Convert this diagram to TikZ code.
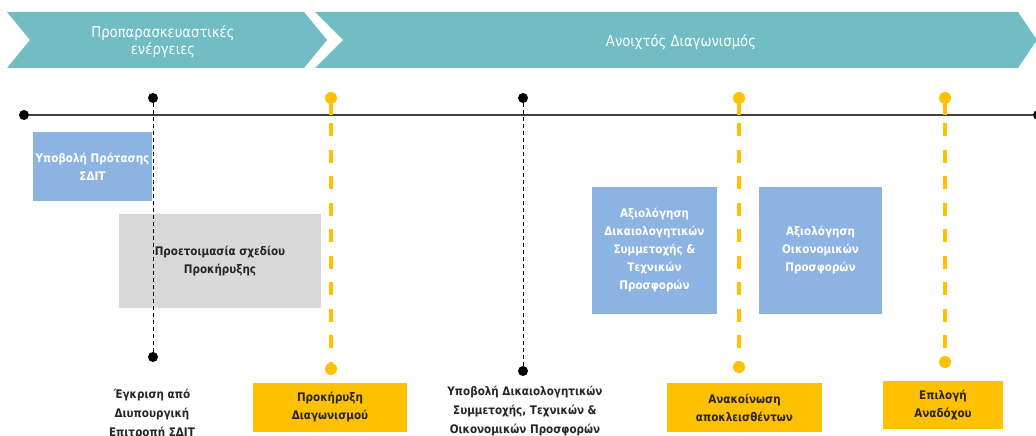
\documentclass[tikz,border=0pt]{standalone}
\usepackage{fontspec}
\setmainfont{DejaVu Sans}[FakeStretch=0.88]
\definecolor{chev}{HTML}{71BDC3}
\definecolor{blu}{HTML}{8DB3E2}
\definecolor{gry}{HTML}{D9D9D9}
\definecolor{ylw}{HTML}{FFC000}
\definecolor{txt}{HTML}{262626}
\definecolor{tline}{HTML}{404040}
\begin{document}
\begin{tikzpicture}[x=1pt,y=-1pt,
  hdr/.style={font=\fontsize{15}{17}\selectfont, text=white, align=center, inner sep=0pt},
  lbl/.style={font=\fontsize{11.8}{19}\selectfont\bfseries, text=txt, align=center, inner sep=0pt},
  boxtxt/.style={font=\fontsize{11.8}{18}\selectfont\bfseries, align=center, inner sep=0pt},
  bluebox/.style={boxtxt, fill=blu, text=white},
  graybox/.style={boxtxt, fill=gry, text=txt},
  ylwbox/.style={boxtxt, fill=ylw, text=txt},
  dotk/.style={circle, fill=black, inner sep=0pt, minimum size=10pt},
  doty/.style={circle, fill=ylw, inner sep=0pt, minimum size=12pt},
  ystem/.style={draw=ylw, line width=3.5pt},
  ydash/.style={draw=ylw, line width=3.5pt, dash pattern=on 13pt off 13.5pt, dash phase=18.5pt},
  kdash/.style={draw=black, line width=0.9pt, dash pattern=on 4pt off 3pt}]
\useasboundingbox (0,0) rectangle (1036,436);

% header chevrons
\fill[chev] (7,12) -- (304,12) -- (327,40) -- (304,68) -- (7,68) -- (30,40) -- cycle;
\fill[chev] (315,12) -- (1018,12) -- (1037,40) -- (1018,68) -- (315,68) -- (343,40) -- cycle;
\node[hdr] (h1) at (163,42) {Προπαρασκευαστικές\\ενέργειες};
\node[hdr] (h2) at (681,42) {Ανοιχτός Διαγωνισμός};

% boxes
\node[bluebox, minimum width=119pt, minimum height=69pt] (sdit) at (92.5,166.5) {Υποβολή Πρότασης\\ΣΔΙΤ};
\node[graybox, minimum width=202pt, minimum height=94pt] (prep) at (220,261) {Προετοιμασία σχεδίου\\Προκήρυξης};
\node[bluebox, minimum width=125pt, minimum height=127pt] (ax1) at (654.5,250.5) {Αξιολόγηση\\Δικαιολογητικών\\Συμμετοχής \&\\Τεχνικών\\Προσφορών};
\node[bluebox, minimum width=123pt, minimum height=127pt] (ax2) at (820.5,250.5) {Αξιολόγηση\\Οικονομικών\\Προσφορών};
\node[ylwbox, minimum width=154pt, minimum height=49pt] (prok) at (330,407.5) {Προκήρυξη\\Διαγωνισμού};
\node[ylwbox, minimum width=155pt, minimum height=49pt] (anak) at (744.5,407.5) {Ανακοίνωση\\αποκλεισθέντων};
\node[ylwbox, minimum width=120pt, minimum height=48pt] (epil) at (943,405) {Επιλογή\\Αναδόχου};

% free labels
\node[lbl] (egk) at (152,414) {Έγκριση από\\Διυπουργική\\Επιτροπή ΣΔΙΤ};
\node[lbl] (ypo) at (525,411) {Υποβολή Δικαιολογητικών\\Συμμετοχής, Τεχνικών \&\\Οικονομικών Προσφορών};

% timeline
\node[dotk] (L) at (24,115) {};
\node[dotk] (R) at (1038,115) {};
\draw[tline, line width=1.2pt] (L) -- (R);

% markers
\node[dotk] (k1t) at (153,98) {};
\node[dotk] (k1b) at (153,357) {};
\node[dotk] (k2t) at (523,98) {};
\node[dotk] (k2b) at (523,371) {};
\node[doty] (y1t) at (331,98) {};
\node[doty] (y1b) at (331,369) {};
\node[doty] (y2t) at (739,98) {};
\node[doty] (y2b) at (739,367) {};
\node[doty] (y3t) at (945,98) {};
\node[doty] (y3b) at (945,362) {};
\coordinate (m1) at (331,115);
\coordinate (m2) at (739,115);
\coordinate (m3) at (945,115);

\draw[kdash] (k1t) -- (k1b);
\draw[kdash] (k2t) -- (k2b);
\draw[ystem] (y1t) -- (m1);
\draw[ystem] (y2t) -- (m2);
\draw[ystem] (y3t) -- (m3);
\draw[ydash] (m1) -- (y1b);
\draw[ydash] (m2) -- (y2b);
\draw[ydash] (m3) -- (y3b);
\end{tikzpicture}
\end{document}
